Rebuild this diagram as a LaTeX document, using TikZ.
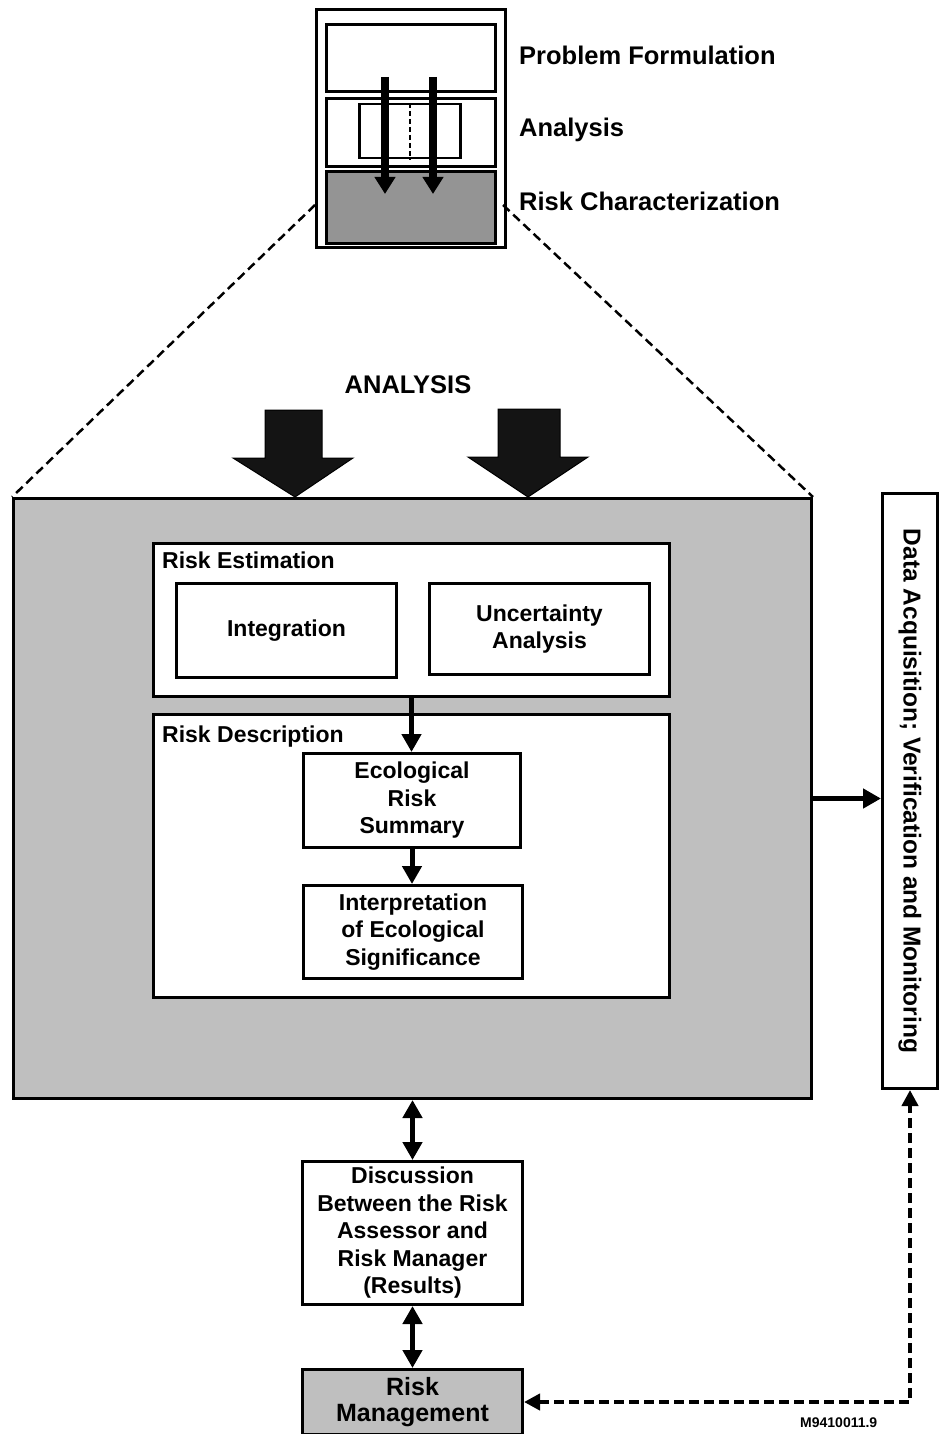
\documentclass[tikz,border=0pt]{standalone}
\usepackage{fontspec}
\setmainfont{Liberation Sans}
\usetikzlibrary{arrows.meta,calc}
\begin{document}
\begin{tikzpicture}[x=1pt,y=-1pt,
  font=\bfseries,
  box/.style={draw, line width=3pt, fill=white, inner sep=0pt, align=center, anchor=north west},
  shaded/.style={fill=black!25},
  lbl/.style={font=\fontsize{25.5}{28}\selectfont\bfseries, inner sep=0pt, anchor=west},
  small/.style={font=\fontsize{23}{27.5}\selectfont\bfseries},
  arr/.style={line width=5pt, -{Triangle[width=19pt,length=18pt]}},
  darr/.style={line width=5pt, {Triangle[width=19pt,length=18pt]}-{Triangle[width=19pt,length=18pt]}},
  dasharr/.style={line width=4pt, dash pattern=on 10pt off 5pt,
    {Triangle[width=16pt,length=16pt]}-{Triangle[width=16pt,length=16pt]}},
  bigarrow/.style={fill=black!92, draw=black, line width=1pt},
  zoomline/.style={line width=2.5pt, dash pattern=on 9pt off 5pt}
]
\useasboundingbox (0,0) rectangle (941,1434);
\clip (0,0) rectangle (941,1434);

% ---- small overview icon of the three phases ----
\node[box, minimum width=189pt, minimum height=238pt] (icon) at (315,8) {};
\node[box, minimum width=169pt, minimum height=67pt] (pf) at (325,23) {};
\node[box, minimum width=169pt, minimum height=68pt] (an) at (325,97) {};
\node[box, line width=2.5pt, minimum width=101pt, minimum height=54pt] (aninner) at (358,103) {};
\node[box, fill=black!42, minimum width=169pt, minimum height=72pt] (rc) at (325,170) {};
\draw[line width=2pt, dash pattern=on 5pt off 3pt] (aninner.north) -- (aninner.south);
\coordinate (a1s) at (385,77);
\coordinate (a1e) at (385,194);
\coordinate (a2s) at (433,77);
\coordinate (a2e) at (433,194);
\draw[line width=8pt, -{Triangle[width=20pt,length=17pt]}] (a1s) -- (a1e);
\draw[line width=8pt, -{Triangle[width=20pt,length=17pt]}] (a2s) -- (a2e);

\node[lbl] (pft) at (519,55) {Problem Formulation};
\node[lbl] (ant) at (519,130) {Analysis};
\node[lbl] (rct) at (519,201) {Risk Characterization};

% ---- expanded risk characterization ----
\node[box, shaded, minimum width=798pt, minimum height=600pt] (big) at (12,497) {};

\coordinate (zl) at (315,205);
\coordinate (zr) at (503,205);
\draw[zoomline] (zl) -- (big.north west);
\draw[zoomline] (zr) -- (big.north east);

\node[font=\fontsize{25.5}{28}\selectfont\bfseries] (analysis) at (408,385) {ANALYSIS};

% broad input arrows
\fill[bigarrow] (265,410) -- (322,410) -- (322,458) -- (353,458) -- (295,497)
  -- (233,458) -- (265,458) -- cycle;
\fill[bigarrow] (498,409) -- (560,409) -- (560,457) -- (588,457) -- (528,497)
  -- (468,457) -- (498,457) -- cycle;

% risk estimation
\node[box, minimum width=516pt, minimum height=153pt] (re) at (152,542) {};
\node[lbl, small] (ret) at (162,560) {Risk Estimation};
\node[box, small, minimum width=220pt, minimum height=94pt] (integ) at (175,582) {Integration};
\node[box, small, minimum width=220pt, minimum height=91pt] (unc) at (428,582) {Uncertainty\\Analysis};

% risk description
\node[box, minimum width=516pt, minimum height=283pt] (rd) at (152,713) {};
\node[lbl, small] (rdt) at (162,737) {Risk Description};
\node[box, small, minimum width=217pt, minimum height=94pt] (ers) at (302,752) {Ecological\\Risk\\Summary};
\node[box, small, minimum width=219pt, minimum height=93pt] (interp) at (302,884) {Interpretation\\of Ecological\\Significance};

\draw[arr] (re.south) -- (re.south |- ers.north);
\draw[arr] (ers.south) -- (ers.south |- interp.north);

% data acquisition column
\node[box, minimum width=55pt, minimum height=595pt] (daq) at (881,492) {};
\node[font=\fontsize{24.5}{28}\selectfont\bfseries, rotate=-90] (daqt) at (daq.center) {Data Acquisition; Verification and Monitoring};
\draw[arr] (big.east) -- (big.east -| daq.west);

% discussion and management
\node[box, small, minimum width=220pt, minimum height=143pt] (disc) at (301,1160) {Discussion\\Between the Risk\\Assessor and\\Risk Manager\\(Results)};
\node[box, shaded, font=\fontsize{25}{26}\selectfont\bfseries, minimum width=220pt, minimum height=65pt] (rm) at (301,1368) {Risk\\Management};

\draw[darr] (disc.north |- big.south) -- (disc.north);
\draw[darr] (disc.south) -- (rm.north);
\draw[dasharr] (rm.east) -- (rm.east -| daq.south) -- (daq.south);

\node[font=\fontsize{14}{15}\selectfont\bfseries, anchor=north west, inner sep=0pt] (code) at (800,1418) {M9410011.9};
\end{tikzpicture}
\end{document}
